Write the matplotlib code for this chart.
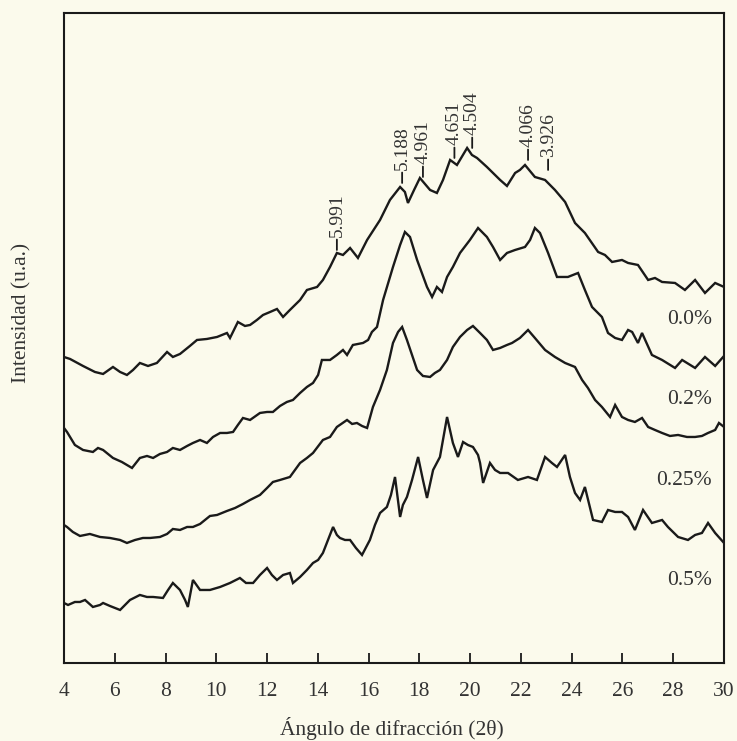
import matplotlib
matplotlib.use("Agg")
import matplotlib.pyplot as plt

plt.rcParams["font.family"] = ["Liberation Serif", "DejaVu Serif"]

# Diffraction angle (2θ, degrees) and intensity (a.u., vertically offset) per sample
tt_00 = [4.00, 4.24, 4.75, 5.22, 5.54, 5.93, 6.21, 6.48, 6.72, 6.99, 7.31, 7.66, 8.06, 8.29, 8.57,
         8.96, 9.24, 9.63, 10.03, 10.42, 10.54, 10.85, 11.13, 11.33, 11.60, 11.84, 12.12, 12.39,
         12.63, 12.90, 13.02, 13.30, 13.57, 13.97, 14.20, 14.48, 14.75, 14.99, 15.27, 15.58, 15.94,
         16.45, 16.84, 17.24, 17.43, 17.55, 17.79, 18.02, 18.42, 18.69, 18.93, 19.21, 19.48, 19.88,
         20.07, 20.27, 20.66, 20.90, 21.18, 21.45, 21.77, 21.96, 22.16, 22.55, 22.95, 23.34, 23.74,
         24.13, 24.52, 25.04, 25.31, 25.59, 25.98, 26.22, 26.61, 27.01, 27.28, 27.56, 28.07, 28.46,
         28.86, 29.25, 29.65, 30.00]
int_00 = [306, 304, 297, 291, 289, 296, 291, 288, 293, 300, 297, 300, 311, 306, 309,
          317, 323, 324, 326, 330, 325, 341, 337, 338, 343, 348, 351, 354,
          346, 353, 356, 363, 373, 376, 383, 396, 410, 408, 415, 405, 423,
          443, 463, 476, 471, 460, 473, 485, 473, 470, 483, 503, 498, 515,
          508, 505, 496, 490, 483, 477, 490, 493, 498, 486, 483, 473, 461,
          440, 430, 411, 408, 401, 403, 400, 398, 383, 385, 381, 380, 373,
          383, 370, 380, 376]

tt_02 = [4.00, 4.12, 4.43, 4.75, 5.14, 5.34, 5.54, 5.93, 6.28, 6.68, 6.99, 7.27, 7.51, 7.78, 8.06,
         8.29, 8.57, 8.85, 9.08, 9.36, 9.63, 9.87, 10.15, 10.42, 10.66, 10.85, 11.05, 11.33, 11.72,
         12.00, 12.23, 12.51, 12.78, 13.02, 13.30, 13.57, 13.81, 14.01, 14.16, 14.48, 14.75, 14.99,
         15.15, 15.38, 15.78, 15.98, 16.13, 16.33, 16.57, 16.96, 17.24, 17.43, 17.63, 17.91, 18.30,
         18.50, 18.69, 18.89, 19.09, 19.32, 19.60, 19.99, 20.31, 20.66, 20.90, 21.18, 21.45, 21.77,
         22.16, 22.36, 22.55, 22.75, 23.07, 23.42, 23.85, 24.25, 24.52, 24.80, 25.19, 25.43, 25.71,
         25.98, 26.22, 26.38, 26.61, 26.77, 27.16, 27.56, 28.07, 28.35, 28.86, 29.25, 29.65, 30.00]
int_02 = [235, 231, 218, 213, 211, 215, 213, 205, 201, 195, 205, 207, 205, 209, 211,
          215, 213, 217, 220, 223, 220, 226, 230, 230, 231, 238, 245, 243, 250,
          251, 251, 257, 261, 263, 270, 276, 280, 288, 303, 303, 308, 313,
          308, 318, 320, 323, 331, 336, 363, 396, 418, 431, 426, 403, 376,
          366, 376, 371, 386, 396, 410, 423, 435, 426, 416, 403, 410, 413,
          416, 423, 435, 430, 410, 386, 386, 390, 373, 356, 346, 330, 325,
          323, 333, 331, 320, 330, 308, 303, 295, 303, 295, 306, 297, 307]

tt_025 = [4.00, 4.12, 4.35, 4.63, 5.02, 5.42, 5.81, 6.21, 6.48, 6.80, 7.11, 7.39, 7.78, 8.06, 8.29,
          8.57, 8.85, 9.08, 9.36, 9.75, 10.03, 10.42, 10.74, 11.05, 11.33, 11.72, 12.00, 12.23,
          12.51, 12.90, 13.30, 13.57, 13.81, 14.20, 14.48, 14.75, 15.15, 15.35, 15.54, 15.74, 15.94,
          16.17, 16.45, 16.72, 16.96, 17.16, 17.32, 17.51, 17.71, 17.91, 18.14, 18.42, 18.61, 18.81,
          19.09, 19.32, 19.60, 19.88, 20.11, 20.39, 20.66, 20.90, 21.18, 21.45, 21.65, 21.96, 22.28,
          22.55, 22.95, 23.34, 23.74, 24.13, 24.41, 24.64, 24.92, 25.19, 25.51, 25.71, 25.98, 26.22,
          26.49, 26.77, 27.01, 27.28, 27.56, 27.87, 28.19, 28.54, 28.86, 29.13, 29.37, 29.65, 29.80,
          30.00]
int_025 = [138, 136, 131, 127, 129, 126, 125, 123, 120, 123, 125, 125, 126, 129, 134,
           133, 136, 136, 139, 147, 148, 152, 155, 159, 163, 168, 175, 181,
           183, 186, 200, 205, 210, 223, 226, 236, 243, 239, 240, 237, 235,
           256, 273, 293, 320, 331, 336, 323, 308, 293, 287, 286, 290, 293,
           303, 316, 326, 333, 337, 330, 323, 313, 315, 318, 320, 325, 333,
           325, 313, 306, 300, 296, 283, 275, 263, 256, 246, 258, 246, 243,
           241, 245, 236, 233, 230, 227, 228, 226, 226, 227, 230, 233, 240,
           236]

tt_05 = [4.00, 4.16, 4.43, 4.63, 4.83, 5.14, 5.42, 5.54, 5.81, 6.21, 6.60, 6.99, 7.27, 7.51, 7.90,
         8.10, 8.29, 8.57, 8.77, 8.88, 9.08, 9.36, 9.75, 10.15, 10.54, 10.93, 11.17, 11.45, 11.72,
         12.00, 12.19, 12.39, 12.63, 12.90, 13.02, 13.30, 13.57, 13.81, 14.01, 14.20, 14.40, 14.60,
         14.75, 14.87, 15.07, 15.27, 15.50, 15.74, 16.05, 16.25, 16.45, 16.72, 16.88, 17.04, 17.24,
         17.35, 17.51, 17.71, 17.95, 18.14, 18.30, 18.54, 18.81, 19.09, 19.32, 19.52, 19.72, 19.91,
         20.11, 20.31, 20.39, 20.51, 20.78, 20.98, 21.18, 21.49, 21.88, 22.28, 22.63, 22.95, 23.22,
         23.42, 23.74, 23.93, 24.13, 24.33, 24.52, 24.84, 25.19, 25.43, 25.71, 25.98, 26.22, 26.49,
         26.81, 27.16, 27.56, 27.79, 28.19, 28.58, 28.86, 29.13, 29.37, 29.65, 30.00]
int_05 = [60, 58, 61, 61, 63, 56, 58, 60, 57, 53, 63, 68, 66, 66, 65,
          73, 80, 73, 63, 56, 83, 73, 73, 76, 80, 85, 80, 80, 88,
          95, 88, 83, 88, 90, 80, 86, 93, 100, 103, 110, 123, 136,
          128, 125, 123, 123, 115, 108, 123, 138, 150, 156, 168, 186, 146,
          158, 166, 183, 206, 183, 165, 193, 206, 246, 220, 206, 221, 218,
          216, 208, 200, 180, 200, 193, 190, 190, 183, 186, 183, 206, 200,
          196, 208, 186, 170, 163, 176, 143, 141, 153, 151, 151, 146, 133,
          153, 140, 143, 136, 126, 123, 128, 130, 140, 130, 120]

series = [
    ("0.0%", tt_00, int_00, 343),
    ("0.2%", tt_02, int_02, 263),
    ("0.25%", tt_025, int_025, 182),
    ("0.5%", tt_05, int_05, 82),
]

# d-spacings (Å) marked on the 0.0% pattern, their 2θ position and marker base height
peak_d = ["5.991", "5.188", "4.961", "4.651", "4.504", "4.066", "3.926"]
peak_2theta = [14.75, 17.32, 18.14, 19.38, 20.08, 22.28, 23.07]
peak_base = [413, 480, 486, 505, 515, 503, 493]

x_ticks = [4, 6, 8, 10, 12, 14, 16, 18, 20, 22, 24, 26, 28, 30]

bg = "#FBFAEC"
ink = "#1a1a1a"

fig = plt.figure(figsize=(7.37, 7.41), dpi=100, facecolor=bg)
ax = fig.add_axes([0.0868, 0.1053, 0.8956, 0.8772], facecolor=bg)

for name, tt, inten, label_y in series:
    ax.plot(tt, inten, color=ink, lw=1.7, solid_joinstyle="miter")
    ax.text(29.53, label_y, name, ha="right", va="center", fontsize=15.5, color="#333333")

for d, pos, base in zip(peak_d, peak_2theta, peak_base):
    ax.annotate(d, xy=(pos, base), xytext=(0, 9.5), textcoords="offset points",
                rotation=90, ha="center", va="bottom", fontsize=14, color="#333333",
                arrowprops=dict(arrowstyle="-", color=ink, lw=1.3,
                                shrinkA=0, shrinkB=0))

ax.set_xlim(4, 30)
ax.set_ylim(0, 650)
ax.set_xticks(x_ticks)
ax.set_xticklabels([str(t) for t in x_ticks])
ax.set_yticks([])
ax.tick_params(axis="x", direction="in", length=7, width=1.3, pad=14,
               labelsize=15.5, colors=ink, labelcolor="#333333")
for side in ["left", "right", "top", "bottom"]:
    ax.spines[side].set_linewidth(1.5)
    ax.spines[side].set_color(ink)

fig.text(392 / 737, 1 - 728 / 741, "Ángulo de difracción (2θ)", ha="center", va="center",
         fontsize=15.5, color="#333333")
fig.text(22 / 737, 1 - 313 / 741, "Intensidad (u.a.)", ha="center", va="center",
         rotation=90, fontsize=15.5, color="#333333")

fig.savefig("out.png", dpi=100, facecolor=bg)
